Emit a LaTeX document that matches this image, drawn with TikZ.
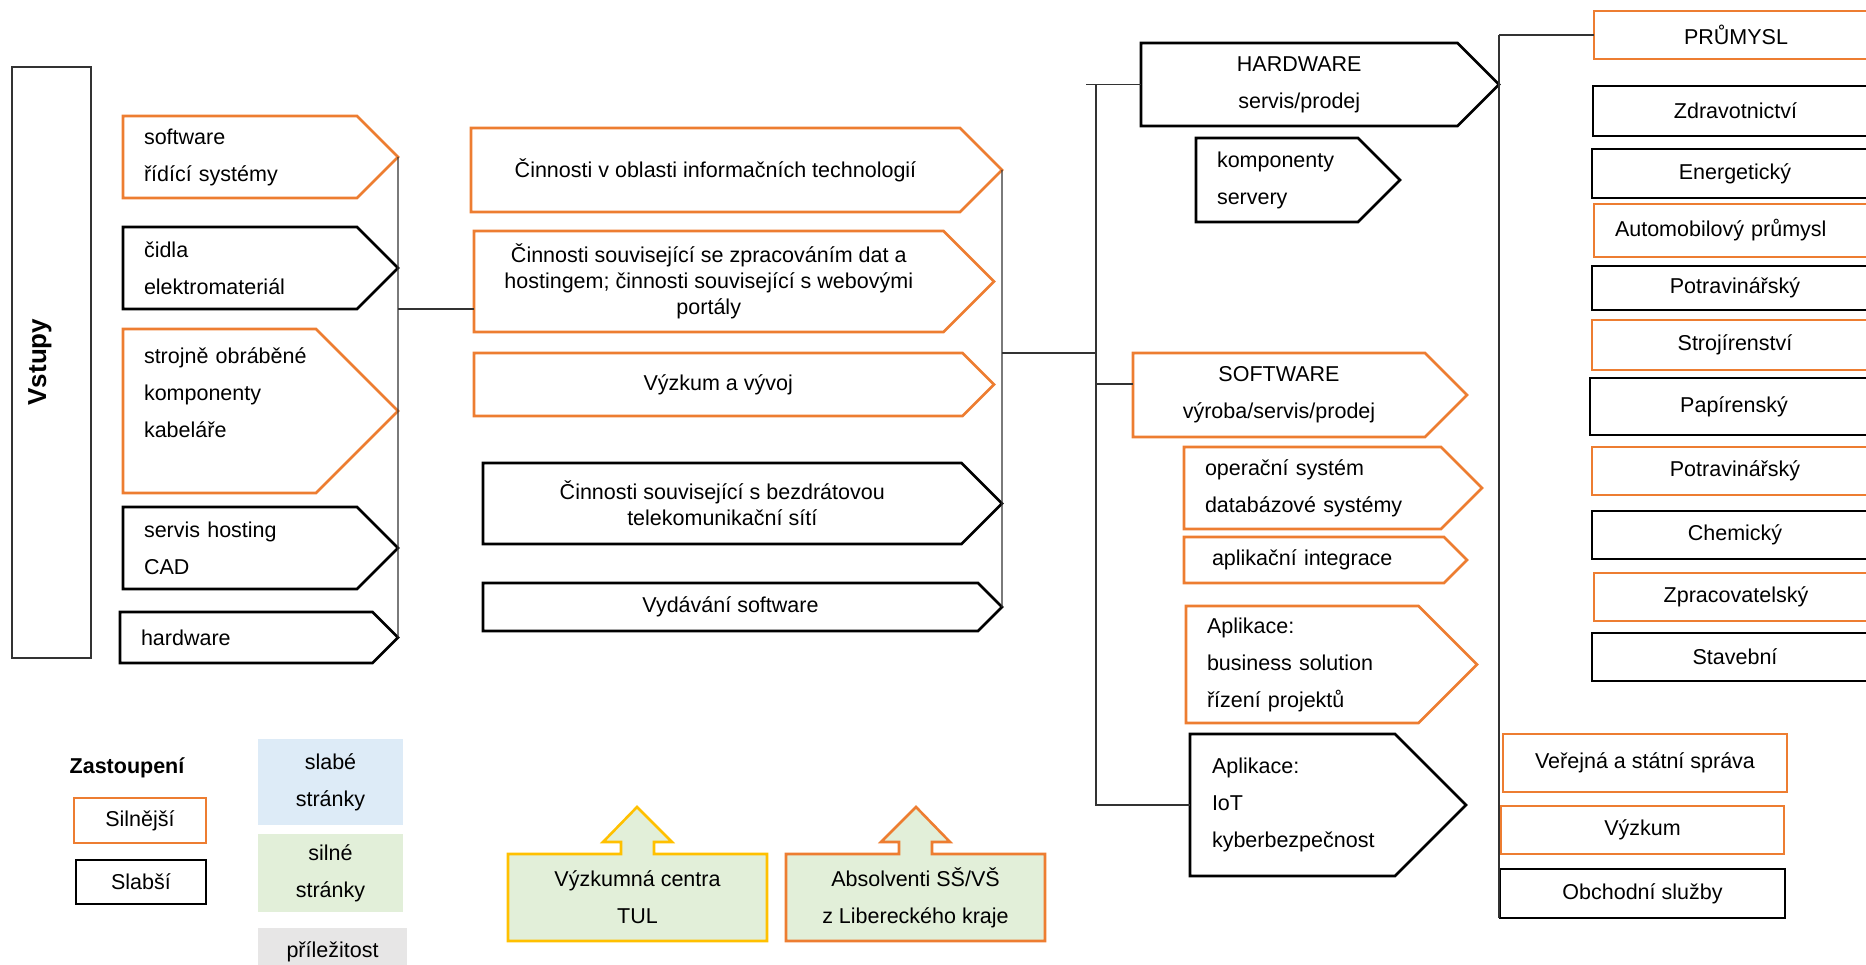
\documentclass[tikz,border=0pt]{standalone}
\usepackage{fontspec}
\setmainfont{Liberation Sans}
\usetikzlibrary{shapes.symbols}
\definecolor{oranz}{HTML}{ED7D31}
\definecolor{zluta}{HTML}{FFC000}
\definecolor{zelena}{HTML}{E2EFD9}
\definecolor{modra}{HTML}{DDEBF7}
\definecolor{seda}{HTML}{E7E6E6}
\tikzset{
  sig/.style={signal, signal to=east, signal pointer angle=90, draw, line width=2.6pt,
    align=center, inner xsep=4pt, inner ysep=0pt, outer sep=0pt},
  silny/.style={draw=oranz},
  slaby/.style={draw=black},
  vol/.style={font=\fontsize{21.5}{37}\selectfont},
  seznam/.style={vol, align=left, inner xsep=21pt},
  odv/.style={draw, line width=2.6pt, anchor=north west, inner sep=0pt, outer sep=0pt},
  conn/.style={line width=1.3pt, black!80},
  vystup/.style={line width=2.6pt, fill=zelena},
}
\begin{document}
\begin{tikzpicture}[x=1pt,y=-1pt,every node/.style={font=\fontsize{21.5}{26}\selectfont}]
\clip (0,0) rectangle (1866,965);
% vstupy
\node[draw, conn, minimum width=79pt, minimum height=591pt, inner sep=0pt] (vstupy) at (51.5,362.5) {};
\node[rotate=90, font=\fontsize{26}{30}\selectfont\bfseries] (vstupyt) at (40,362) {Vstupy};
\node[sig, silny, seznam, minimum width=275pt, minimum height=82pt, text width=192pt] (sw) at (240,157) {software\\řídící systémy};
\node[sig, slaby, seznam, minimum width=275pt, minimum height=82pt, text width=192pt] (cidla) at (240,268) {čidla\\elektromateriál};
\node[sig, silny, seznam, minimum width=275pt, minimum height=164pt, text width=151pt] (stroj) at (219.5,411) {strojně~obráběné\\komponenty\\kabeláře\\\mbox{}};
\node[sig, slaby, seznam, minimum width=275pt, minimum height=82pt, text width=192pt] (servis) at (240,548) {servis hosting\\CAD};
\node[sig, slaby, seznam, minimum width=278pt, minimum height=51pt, text width=210.5pt] (hw) at (246.25,637.5) {hardware};
% cinnosti
\node[sig, silny, minimum width=531pt, minimum height=84pt] (it) at (715.5,170) {Činnosti v oblasti informačních technologií};
\node[sig, silny, minimum width=520pt, minimum height=101pt] (dat) at (708.75,281.5) {Činnosti související se zpracováním dat a\\hostingem; činnosti související s webovými\\portály};
\node[sig, silny, minimum width=520pt, minimum height=63pt] (vav) at (718.25,384.5) {Výzkum a vývoj};
\node[sig, slaby, minimum width=519pt, minimum height=81pt] (bezdr) at (722.25,503.5) {Činnosti související s bezdrátovou\\telekomunikační sítí};
\node[sig, slaby, minimum width=519pt, minimum height=48pt] (vyd) at (730.5,607) {Vydávání software};
% hardware a software
\node[sig, slaby, vol, minimum width=358pt, minimum height=83pt] (hwr) at (1299.25,84.5) {HARDWARE\\servis/prodej};
\node[sig, slaby, seznam, minimum width=204pt, minimum height=84pt, text width=120pt] (komp) at (1277,180) {komponenty\\servery};
\node[sig, silny, vol, minimum width=334pt, minimum height=84pt] (sofw) at (1279,395) {SOFTWARE\\výroba/servis/prodej};
\node[sig, silny, seznam, minimum width=298pt, minimum height=82pt, text width=215pt] (os) at (1312.5,488) {operační systém\\databázové systémy};
\node[sig, silny, seznam, inner xsep=28pt, minimum width=283pt, minimum height=46pt, text width=204pt] (integ) at (1314,560) {aplikační integrace};
\node[sig, silny, seznam, minimum width=291pt, minimum height=117pt, text width=190.5pt] (bus) at (1302.25,664.5) {Aplikace:\\business solution\\řízení projektů};
\node[sig, slaby, seznam, minimum width=276pt, minimum height=142pt, text width=161pt] (iot) at (1292.5,805) {Aplikace:\\IoT\\kyberbezpečnost};
% odvetvi
\node[odv, silny, minimum width=284pt, minimum height=48pt] (prum) at (1594,11) {PRŮMYSL};
\node[odv, slaby, minimum width=285pt, minimum height=50pt] (zdrav) at (1593,86) {Zdravotnictví};
\node[odv, slaby, minimum width=286pt, minimum height=49pt] (energ) at (1592,149) {Energetický};
\node[odv, silny, minimum width=284pt, minimum height=53pt, align=left, text width=242pt, inner xsep=21pt] (auto) at (1594,204) {Automobilový průmysl};
\node[odv, slaby, minimum width=286pt, minimum height=44pt] (potr) at (1592,266) {Potravinářský};
\node[odv, silny, minimum width=286pt, minimum height=50pt] (strojir) at (1592,320) {Strojírenství};
\node[odv, slaby, minimum width=288pt, minimum height=57pt] (papir) at (1590,378) {Papírenský};
\node[odv, silny, minimum width=286pt, minimum height=48pt] (potrb) at (1592,447) {Potravinářský};
\node[odv, slaby, minimum width=286pt, minimum height=48pt] (chem) at (1592,511) {Chemický};
\node[odv, silny, minimum width=284pt, minimum height=48pt] (zprac) at (1594,573) {Zpracovatelský};
\node[odv, slaby, minimum width=286pt, minimum height=48pt] (stav) at (1592,633) {Stavební};
\node[odv, silny, minimum width=284pt, minimum height=58pt] (verej) at (1503,734) {Veřejná a státní správa};
\node[odv, silny, minimum width=283pt, minimum height=48pt] (vyzk) at (1501,806) {Výzkum};
\node[odv, slaby, minimum width=285pt, minimum height=49pt] (obch) at (1500,869) {Obchodní služby};
% spojnice
\coordinate (hub) at (1096,84.5);
\coordinate (sofin) at ([yshift=11pt]sofw.west);
\draw[conn] (sw.east) -- (hw.east);
\draw[conn] (sw.east |- cidla.south) -- (dat.west |- cidla.south);
\draw[conn] (it.east) -- (vyd.east);
\draw[conn] (it.east |- sofw.north) -- (hub |- sofw.north);
\draw[conn] ([xshift=-10pt]hub) -- (hwr.west);
\draw[conn] (hub) -- (hub |- iot.west) -- (iot.west);
\draw[conn] (hub |- sofin) -- (sofin);
\draw[conn] (hwr.east |- prum.west) -- (prum.west);
\draw[conn] (hwr.east |- prum.west) -- (hwr.east |- obch.south);
% legenda
\node[font=\fontsize{21.5}{26}\selectfont\bfseries] (zast) at (127,768) {Zastoupení};
\node[draw=oranz, line width=2.6pt, minimum width=132pt, minimum height=45pt, inner sep=0pt] (silnejsi) at (140,820.5) {Silnější};
\node[draw, line width=2.6pt, minimum width=130pt, minimum height=44pt, inner sep=0pt] (slabsi) at (141,882) {Slabší};
\node[fill=modra, vol, align=center, minimum width=145pt, minimum height=86pt, inner sep=0pt] (slabe) at (330.5,782) {slabé\\stránky};
\node[fill=zelena, vol, align=center, minimum width=145pt, minimum height=78pt, inner sep=0pt] (silne) at (330.5,873) {silné\\stránky};
\node[fill=seda, minimum width=149pt, minimum height=48pt, inner sep=0pt] (prilez) at (332.5,952) {příležitost};
% silne stranky kraje
\draw[vystup, draw=zluta] (508,854) -- (621,854) -- (621,842) -- (603,842) -- (637,807) -- (672,842) -- (654,842) -- (654,854) -- (767,854) -- (767,941) -- (508,941) -- cycle;
\node[vol, align=center] (tul) at (637.5,897.5) {Výzkumná centra\\TUL};
\draw[vystup, draw=oranz] (786,854) -- (899,854) -- (899,842) -- (881,842) -- (916,807) -- (950,842) -- (932,842) -- (932,854) -- (1045,854) -- (1045,941) -- (786,941) -- cycle;
\node[vol, align=center] (absol) at (915.5,897.5) {Absolventi SŠ/VŠ\\z Libereckého kraje};
\end{tikzpicture}
\end{document}
